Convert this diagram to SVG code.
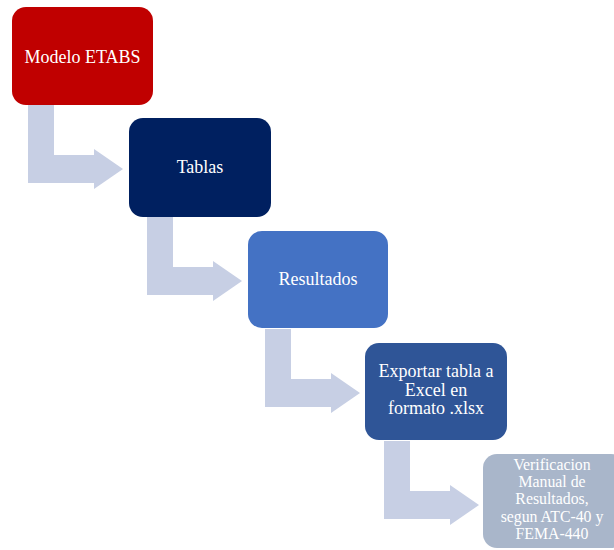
<svg xmlns="http://www.w3.org/2000/svg" xmlns:xlink="http://www.w3.org/1999/xlink" width="614" height="550" viewBox="0 0 614 550">
<style>
.lbl{font-family:"Liberation Serif","Times New Roman",serif;font-size:18px;fill:#ffffff;text-anchor:middle}
.arr{fill:#C7CFE4}
</style>
<defs>
<path id="bent" d="M28,105 V183 H94 V189 L123,169 L94,149 V155 H54 V105 Z"/>
</defs>
<rect width="614" height="550" fill="#ffffff"/>
<g id="connectors" class="arr">
<use xlink:href="#bent" href="#bent"/>
<use xlink:href="#bent" href="#bent" transform="translate(119,112)"/>
<use xlink:href="#bent" href="#bent" transform="translate(237,224)"/>
<use xlink:href="#bent" href="#bent" transform="translate(356,336)"/>
</g>
<g id="n1">
<rect x="12" y="7" width="141" height="98" rx="14" fill="#C00000"/>
<text class="lbl" x="82.5" y="63">Modelo ETABS</text>
</g>
<g id="n2">
<rect x="129" y="118" width="142" height="99" rx="14" fill="#002060"/>
<text class="lbl" x="200" y="173">Tablas</text>
</g>
<g id="n3">
<rect x="248" y="231" width="140" height="97" rx="14" fill="#4472C4"/>
<text class="lbl" x="318" y="285">Resultados</text>
</g>
<g id="n4">
<rect x="365" y="343" width="142" height="97" rx="14" fill="#2F5597"/>
<text class="lbl" x="436" y="377">Exportar tabla a<tspan x="436" dy="18.5">Excel en</tspan><tspan x="436" dy="18.5">formato .xlsx</tspan></text>
</g>
<g id="n5">
<rect x="483" y="454" width="142" height="94" rx="14" fill="#A9B6CA"/>
<text class="lbl" style="font-size:15.8px" x="552" y="469.5">Verificacion<tspan x="552" dy="17.4">Manual de</tspan><tspan x="552" dy="17.4">Resultados,</tspan><tspan x="552" dy="17.4">segun ATC-40 y</tspan><tspan x="552" dy="17.4">FEMA-440</tspan></text>
</g>
</svg>
